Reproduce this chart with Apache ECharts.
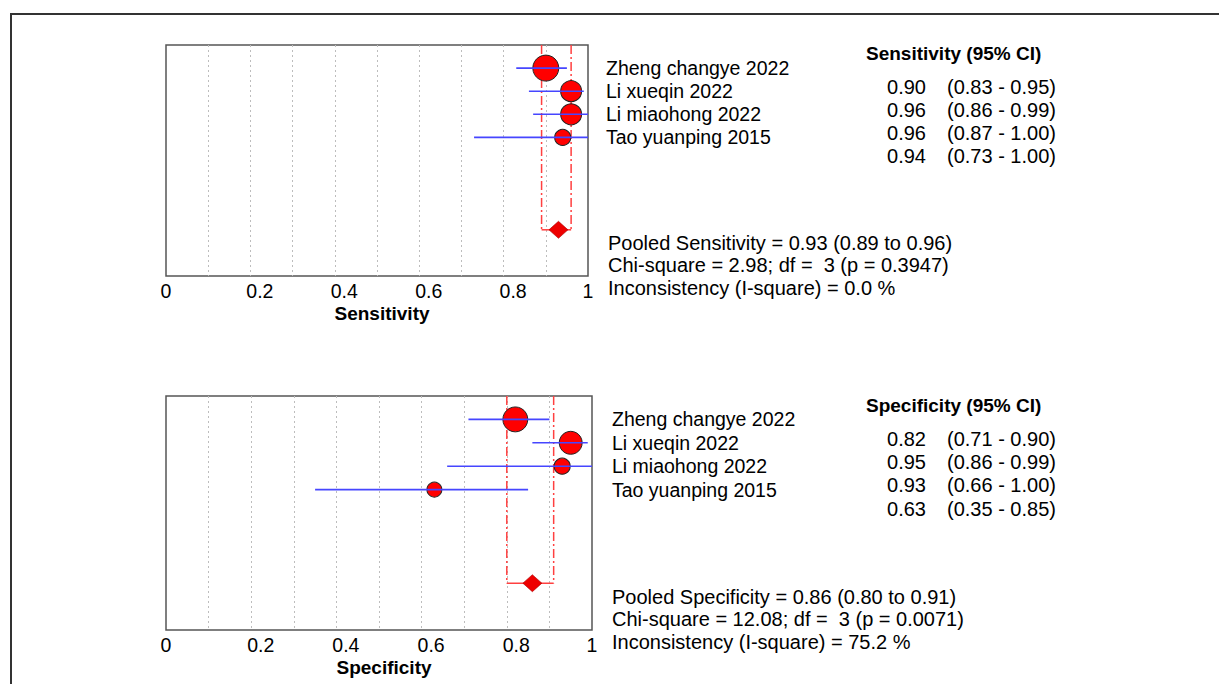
<!DOCTYPE html>
<html><head><meta charset="utf-8">
<script src="https://cdn.jsdelivr.net/npm/echarts@6/dist/echarts.min.js"></script>
<style>html,body{margin:0;padding:0;background:#fff}#c{width:1219px;height:684px}</style>
</head><body><div id="c"></div>
<script>
// ---- data ----
const studies = ['Zheng changye 2022', 'Li xueqin 2022', 'Li miaohong 2022', 'Tao yuanping 2015'];
const sensEst = [0.90, 0.96, 0.96, 0.94];
const sensLo  = [0.83, 0.86, 0.87, 0.73];
const sensHi  = [0.95, 0.99, 1.00, 1.00];
const sensWeight = [100, 65, 65, 38];
const specEst = [0.82, 0.95, 0.93, 0.63];
const specLo  = [0.71, 0.86, 0.66, 0.35];
const specHi  = [0.90, 0.99, 1.00, 0.85];
const specWeight = [92, 78, 38, 33];
const pooledSens = [0.93, 0.89, 0.96];   // estimate, lower, upper
const pooledSpec = [0.86, 0.80, 0.91];
const sensHet = ['2.98', 3, '0.3947', '0.0'];   // chi-square, df, p, I-square
const specHet = ['12.08', 3, '0.0071', '75.2'];
const xTickLabels = [0, 0.2, 0.4, 0.6, 0.8, 1];
const measureNames = ['Sensitivity', 'Specificity'];

// ---- chart ----
const FONT = '"Liberation Sans", Arial, sans-serif';
const chart = echarts.init(document.getElementById('c'), null, {renderer: 'svg'});
const f2 = v => v.toFixed(2);

const grids = [
  {left: 166, top: 45, width: 422, height: 231},
  {left: 166, top: 396, width: 426, height: 234}
];
const POOL_ROW = 8;

function xAxisFor(gi, name) {
  return {
    type: 'value', gridIndex: gi, min: 0, max: 1, interval: 0.1,
    axisLine: {show: false}, axisTick: {show: false},
    splitLine: {show: true, showMinLine: false, showMaxLine: false,
      lineStyle: {type: [2, 3], color: '#bdbdbd', width: 1}},
    axisLabel: {
      color: '#000', fontSize: 19.5, fontFamily: FONT, margin: 5,
      formatter: v => {
        const t = xTickLabels.find(x => Math.abs(x - v) < 1e-6);
        if (t === undefined) return '';
        return (t === 0 || t === 1) ? '{e|' + t + '}' : '{m|' + t.toFixed(1) + '}';
      },
      rich: {
        e: {fontSize: 19.5, fontFamily: FONT, color: '#000'},
        m: {fontSize: 19.5, fontFamily: FONT, color: '#000', padding: [0, 0, 0, 19]}
      }
    },
    name: name, nameLocation: 'middle', nameGap: 28,
    nameTextStyle: {fontWeight: 'bold', fontSize: 19, color: '#000', fontFamily: FONT, padding: [0, 0, 0, 10]}
  };
}
function yAxisFor(gi) {
  return {type: 'value', gridIndex: gi, min: 0, max: 10, inverse: true, show: false};
}

function seriesFor(gi, est, lo, hi, w, pooled) {
  return [
    { // study points
      type: 'scatter', xAxisIndex: gi, yAxisIndex: gi, z: 3,
      data: est.map((v, i) => [v, i + 1, w[i]]),
      symbolSize: d => 2.6 * Math.sqrt(d[2]),
      itemStyle: {color: '#ff0000', borderColor: '#222', borderWidth: 1, opacity: 1}
    },
    { // CI lines
      type: 'custom', xAxisIndex: gi, yAxisIndex: gi, z: 4,
      data: lo.map((l, i) => [l, hi[i], i + 1]),
      encode: {x: [0, 1], y: 2},
      renderItem: (p, api) => {
        const a = api.coord([api.value(0), api.value(2)]);
        const b = api.coord([api.value(1), api.value(2)]);
        return {type: 'line', shape: {x1: a[0], y1: a[1], x2: b[0], y2: b[1]},
          style: {stroke: '#4646ff', lineWidth: 1.6}};
      }
    },
    { // pooled CI bracket
      type: 'custom', xAxisIndex: gi, yAxisIndex: gi, z: 2,
      data: [[pooled[1], pooled[2], POOL_ROW]],
      encode: {x: [0, 1], y: 2},
      renderItem: (p, api) => {
        const l0 = api.coord([api.value(0), 0]), l1 = api.coord([api.value(0), api.value(2)]);
        const h0 = api.coord([api.value(1), 0]), h1 = api.coord([api.value(1), api.value(2)]);
        const st = {stroke: '#ff4040', lineWidth: 1.5, lineDash: [9, 3, 2, 3]};
        return {type: 'group', children: [
          {type: 'line', shape: {x1: l0[0], y1: l0[1], x2: l1[0], y2: l1[1]}, style: st},
          {type: 'line', shape: {x1: h0[0], y1: h0[1], x2: h1[0], y2: h1[1]}, style: st},
          {type: 'line', shape: {x1: l1[0], y1: l1[1], x2: h1[0], y2: h1[1]},
            style: {stroke: '#ff4040', lineWidth: 1.5}}
        ]};
      }
    },
    { // pooled diamond
      type: 'scatter', xAxisIndex: gi, yAxisIndex: gi, z: 5,
      data: [[pooled[0], POOL_ROW]], symbol: 'diamond', symbolSize: [19, 17],
      itemStyle: {color: '#ee0000', borderColor: '#a00', borderWidth: 0.6, opacity: 1}
    },
    { // study text table
      type: 'custom', xAxisIndex: gi, yAxisIndex: gi, z: 6,
      data: est.map((v, i) => [1, i + 1, v, lo[i], hi[i], i]),
      encode: {x: 0, y: 1},
      renderItem: (p, api) => {
        const i = api.value(5);
        const r = api.coord([api.value(0), api.value(1)]);
        const r2 = api.coord([api.value(0), api.value(1) + 0.82]);
        const base = {fill: '#000', verticalAlign: 'middle'};
        return {type: 'group', children: [
          {type: 'text', x: r[0] + 18 + gi * 2, y: r[1],
            style: Object.assign({text: studies[i], align: 'left', font: '19.5px ' + FONT}, base)},
          {type: 'text', x: 926, y: r2[1],
            style: Object.assign({text: f2(api.value(2)), align: 'right', font: '20px ' + FONT}, base)},
          {type: 'text', x: 947, y: r2[1],
            style: Object.assign({text: '(' + f2(api.value(3)) + ' - ' + f2(api.value(4)) + ')', align: 'left', font: '20px ' + FONT}, base)}
        ]};
      }
    }
  ];
}

function textEl(x, y, text, bold) {
  return {type: 'text', x: x, y: y, z: 10,
    style: {text: text, fill: '#000', font: bold ? 'bold 19px ' + FONT : '20px ' + FONT, verticalAlign: 'middle', align: 'left'}};
}

const graphic = [
  {type: 'polyline', shape: {points: [[11, 684], [11, 14], [1219, 14]]},
    style: {stroke: '#333', lineWidth: 2, fill: null}, z: 10},
  textEl(866, 53, measureNames[0] + ' (95% CI)', true),
  textEl(608, 243, 'Pooled ' + measureNames[0] + ' = ' + f2(pooledSens[0]) + ' (' + f2(pooledSens[1]) + ' to ' + f2(pooledSens[2]) + ')'),
  textEl(608, 265, 'Chi-square = ' + sensHet[0] + '; df =  ' + sensHet[1] + ' (p = ' + sensHet[2] + ')'),
  textEl(608, 288, 'Inconsistency (I-square) = ' + sensHet[3] + ' %'),
  textEl(866, 405, measureNames[1] + ' (95% CI)', true),
  textEl(612, 597, 'Pooled ' + measureNames[1] + ' = ' + f2(pooledSpec[0]) + ' (' + f2(pooledSpec[1]) + ' to ' + f2(pooledSpec[2]) + ')'),
  textEl(612, 619, 'Chi-square = ' + specHet[0] + '; df =  ' + specHet[1] + ' (p = ' + specHet[2] + ')'),
  textEl(612, 642, 'Inconsistency (I-square) = ' + specHet[3] + ' %')
];

chart.setOption({
  animation: false,
  backgroundColor: '#fff',
  grid: grids.map(g => Object.assign({show: true, borderColor: '#555', borderWidth: 1.5, backgroundColor: 'transparent', containLabel: false}, g)),
  xAxis: [xAxisFor(0, measureNames[0]), xAxisFor(1, measureNames[1])],
  yAxis: [yAxisFor(0), yAxisFor(1)],
  series: seriesFor(0, sensEst, sensLo, sensHi, sensWeight, pooledSens)
    .concat(seriesFor(1, specEst, specLo, specHi, specWeight, pooledSpec)),
  graphic: graphic
});
</script>
</body></html>
